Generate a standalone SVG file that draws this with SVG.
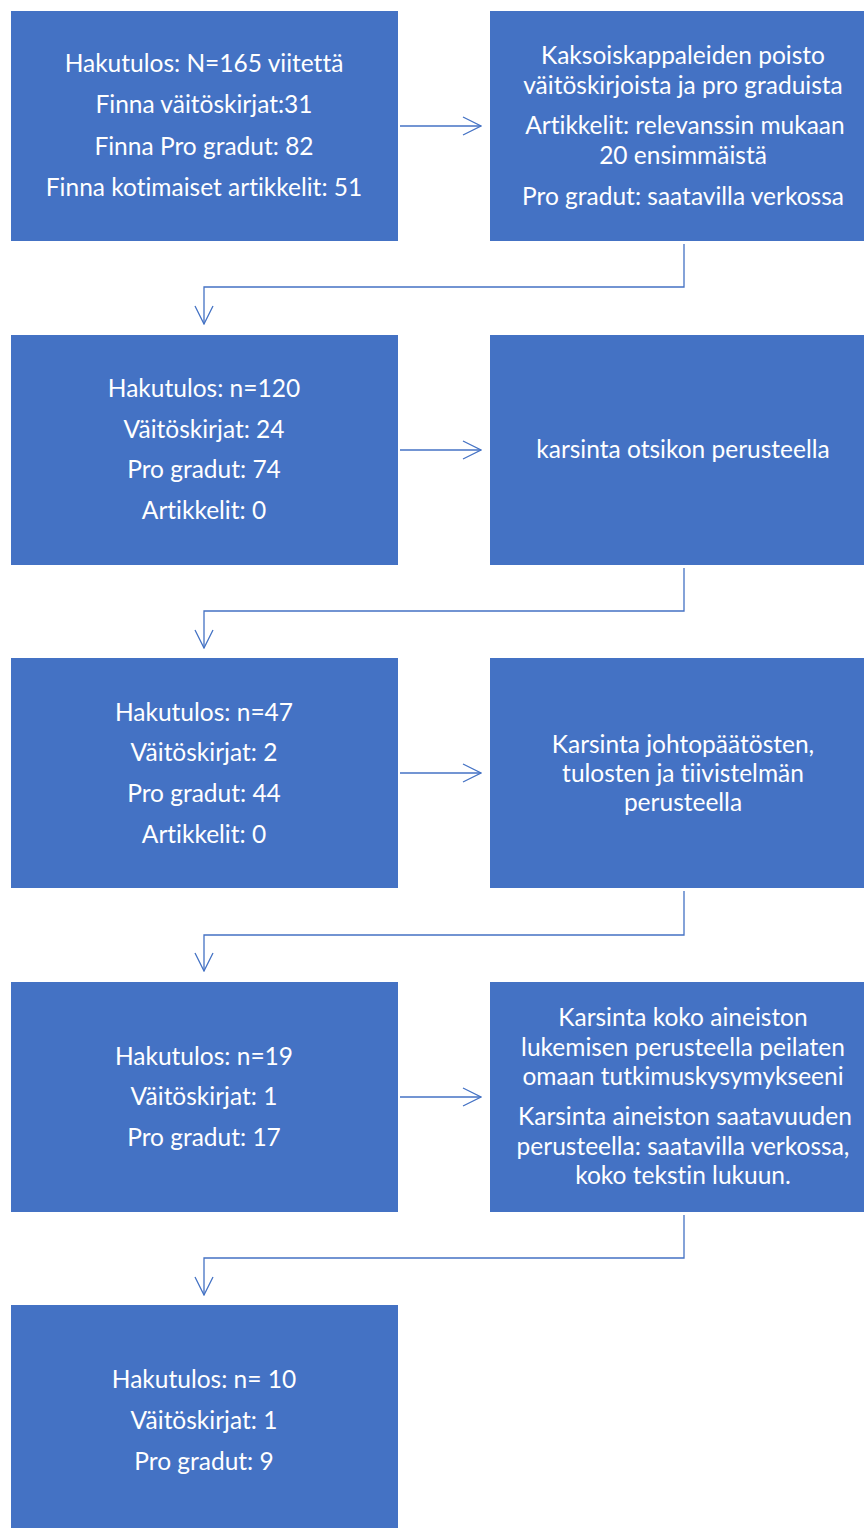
<svg xmlns="http://www.w3.org/2000/svg" width="864" height="1528" viewBox="0 0 864 1528">
<style>
.box{fill:#4472C4}
.t{fill:#fff;font-family:Lato,"Open Sans","Liberation Sans",sans-serif;font-size:24.5px;text-anchor:middle;font-variant-ligatures:none}
.c{fill:none;stroke:#4472C4;stroke-width:1.3}
</style>
<defs>
<marker id="ah" viewBox="0 0 20 20" refX="19" refY="10" markerWidth="20" markerHeight="20" markerUnits="userSpaceOnUse" orient="auto">
<path d="M1,1 L19,10 L1,19" fill="none" stroke="#4472C4" stroke-width="1.3"/>
</marker>
</defs>
<rect width="864" height="1528" fill="#fff"/>
<g id="n1"><rect class="box" x="11" y="11" width="387" height="230"/>
<text class="t" x="204" y="72">Hakutulos: N=165 viitettä</text>
<text class="t" x="204" y="113">Finna väitöskirjat:31</text>
<text class="t" x="204" y="155">Finna Pro gradut: 82</text>
<text class="t" x="204" y="196">Finna kotimaiset artikkelit: 51</text></g>
<g id="n2"><rect class="box" x="490" y="11" width="374" height="230"/>
<text class="t" x="683" y="64">Kaksoiskappaleiden poisto</text>
<text class="t" x="683" y="94">väitöskirjoista ja pro graduista</text>
<text class="t" x="685" y="134">Artikkelit: relevanssin mukaan</text>
<text class="t" x="683" y="164">20 ensimmäistä</text>
<text class="t" x="683" y="205">Pro gradut: saatavilla verkossa</text></g>
<g id="n3"><rect class="box" x="11" y="335" width="387" height="230"/>
<text class="t" x="204" y="397">Hakutulos: n=120</text>
<text class="t" x="204" y="438">Väitöskirjat: 24</text>
<text class="t" x="204" y="478">Pro gradut: 74</text>
<text class="t" x="204" y="519">Artikkelit: 0</text></g>
<g id="n4"><rect class="box" x="490" y="335" width="374" height="230"/>
<text class="t" x="683" y="458">karsinta otsikon perusteella</text></g>
<g id="n5"><rect class="box" x="11" y="658" width="387" height="230"/>
<text class="t" x="204" y="721">Hakutulos: n=47</text>
<text class="t" x="204" y="761">Väitöskirjat: 2</text>
<text class="t" x="204" y="802">Pro gradut: 44</text>
<text class="t" x="204" y="843">Artikkelit: 0</text></g>
<g id="n6"><rect class="box" x="490" y="658" width="374" height="230"/>
<text class="t" x="683" y="753">Karsinta johtopäätösten,</text>
<text class="t" x="683" y="782">tulosten ja tiivistelmän</text>
<text class="t" x="683" y="811">perusteella</text></g>
<g id="n7"><rect class="box" x="11" y="982" width="387" height="230"/>
<text class="t" x="204" y="1065">Hakutulos: n=19</text>
<text class="t" x="204" y="1105">Väitöskirjat: 1</text>
<text class="t" x="204" y="1146">Pro gradut: 17</text></g>
<g id="n8"><rect class="box" x="490" y="982" width="374" height="230"/>
<text class="t" x="683" y="1026">Karsinta koko aineiston</text>
<text class="t" x="683" y="1056">lukemisen perusteella peilaten</text>
<text class="t" x="683" y="1085">omaan tutkimuskysymykseeni</text>
<text class="t" x="685" y="1125">Karsinta aineiston saatavuuden</text>
<text class="t" x="683" y="1155">perusteella: saatavilla verkossa,</text>
<text class="t" x="683" y="1184">koko tekstin lukuun.</text></g>
<g id="n9"><rect class="box" x="11" y="1305" width="387" height="223"/>
<text class="t" x="204" y="1388">Hakutulos: n= 10</text>
<text class="t" x="204" y="1429">Väitöskirjat: 1</text>
<text class="t" x="204" y="1470">Pro gradut: 9</text></g>
<g id="connectors">
<path class="c" d="M400,126 H481" marker-end="url(#ah)"/>
<path class="c" d="M684,244 V287 H204 V324" marker-end="url(#ah)"/>
<path class="c" d="M400,450 H481" marker-end="url(#ah)"/>
<path class="c" d="M684,568 V611 H204 V648" marker-end="url(#ah)"/>
<path class="c" d="M400,773 H481" marker-end="url(#ah)"/>
<path class="c" d="M684,891 V935 H204 V971" marker-end="url(#ah)"/>
<path class="c" d="M400,1097 H481" marker-end="url(#ah)"/>
<path class="c" d="M684,1215 V1258 H204 V1295" marker-end="url(#ah)"/>
</g>
</svg>
